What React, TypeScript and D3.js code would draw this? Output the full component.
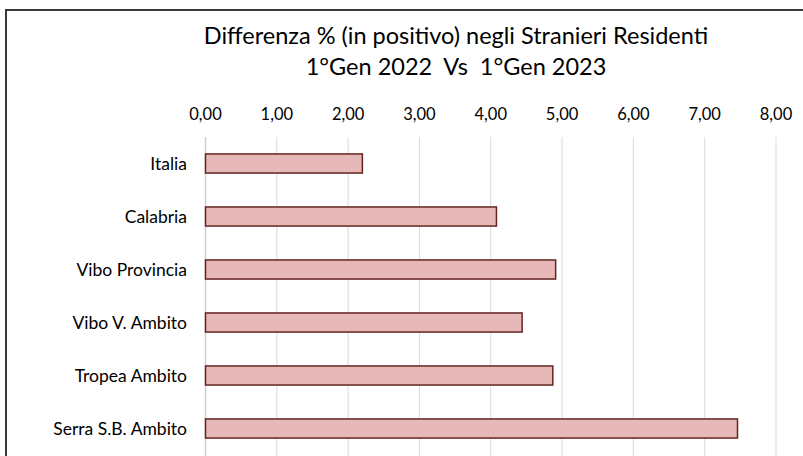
import { useEffect, useRef } from 'react';
import * as d3 from 'd3';

const categories = [
  'Italia',
  'Calabria',
  'Vibo Provincia',
  'Vibo V. Ambito',
  'Tropea Ambito',
  'Serra S.B. Ambito',
];
const values = [2.2, 4.08, 4.91, 4.44, 4.87, 7.46];
const ticks = [0, 1, 2, 3, 4, 5, 6, 7, 8];
const titleLines = [
  'Differenza % (in positivo) negli Stranieri Residenti',
  '1°Gen 2022  Vs  1°Gen 2023',
];

export default function App() {
  const svgRef = useRef<SVGSVGElement>(null);

  useEffect(() => {
    const width = 803;
    const height = 456;
    const margin = { top: 137, right: 27, bottom: 1, left: 205.5 };
    const svg = d3.select(svgRef.current);
    svg.selectAll('*').remove();
    svg.attr('width', width).attr('height', height);

    const font = 'Lato, "Open Sans", sans-serif';

    // outer chart frame (runs past the right and bottom edges)
    svg
      .append('rect')
      .attr('x', 6)
      .attr('y', 10)
      .attr('width', width + 10)
      .attr('height', height + 10)
      .attr('fill', 'white')
      .attr('stroke', '#3a3a3a')
      .attr('stroke-width', 2);

    const x = d3
      .scaleLinear()
      .domain([0, 8])
      .range([margin.left, width - margin.right]);
    const y = d3
      .scaleBand()
      .domain(categories)
      .range([margin.top, height - margin.bottom])
      .paddingInner(0.64)
      .paddingOuter(0.32);

    // title
    svg
      .append('g')
      .selectAll('text')
      .data(titleLines)
      .join('text')
      .attr('x', 456)
      .attr('y', (d, i) => 44 + i * 31)
      .attr('text-anchor', 'middle')
      .attr('font-family', font)
      .attr('font-size', 23.5)
      .attr('fill', '#000')
      .style('white-space', 'pre')
      .text((d) => d);

    // grid lines
    svg
      .append('g')
      .selectAll('line')
      .data(ticks)
      .join('line')
      .attr('x1', (d) => x(d))
      .attr('x2', (d) => x(d))
      .attr('y1', margin.top)
      .attr('y2', height + 5)
      .attr('stroke', (d) => (d === 0 ? '#cfcfcf' : '#d9d9d9'))
      .attr('stroke-width', (d) => (d === 0 ? 1.5 : 1));

    // top tick labels
    svg
      .append('g')
      .selectAll('text')
      .data(ticks)
      .join('text')
      .attr('x', (d) => x(d))
      .attr('y', 120)
      .attr('text-anchor', 'middle')
      .attr('font-family', font)
      .attr('font-size', 16.5)
      .attr('fill', '#000')
      .text((d) => d3.format('.2f')(d).replace('.', ','));

    // category labels
    svg
      .append('g')
      .selectAll('text')
      .data(categories)
      .join('text')
      .attr('x', 187)
      .attr('y', (d) => (y(d) ?? 0) + y.bandwidth() / 2)
      .attr('dy', '0.36em')
      .attr('text-anchor', 'end')
      .attr('font-family', font)
      .attr('font-size', 17.5)
      .attr('fill', '#000')
      .text((d) => d);

    // bars
    svg
      .append('g')
      .selectAll('rect')
      .data(values)
      .join('rect')
      .attr('x', x(0))
      .attr('y', (d, i) => y(categories[i]) ?? 0)
      .attr('width', (d) => x(d) - x(0))
      .attr('height', y.bandwidth())
      .attr('fill', '#e6b8b7')
      .attr('stroke', '#632523')
      .attr('stroke-width', 1.5);
  }, []);

  return (
    <svg
      ref={svgRef}
      style={{ position: 'absolute', left: 0, top: 0, display: 'block' }}
    ></svg>
  );
}
